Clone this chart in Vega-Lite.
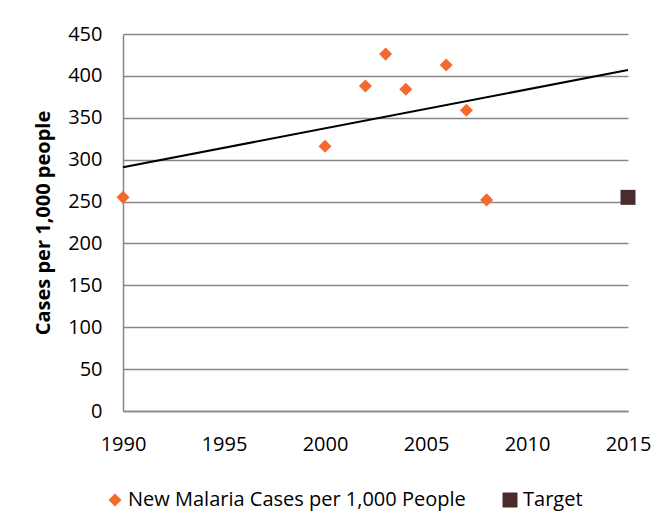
{
  "$schema": "https://vega.github.io/schema/vega-lite/v6.json",
  "width": 505,
  "height": 377,
  "autosize": "none",
  "padding": {"left": 123, "top": 34, "right": 37, "bottom": 106},
  "background": "white",
  "config": {
    "view": {"stroke": null},
    "font": "Open Sans",
    "axis": {"labelFont": "Open Sans", "titleFont": "Open Sans"},
    "legend": {"labelFont": "Open Sans"}
  },
  "datasets": {
    "points": [
      {"year": 1990, "cases": 255, "series": "New Malaria Cases per 1,000 People"},
      {"year": 2000, "cases": 316, "series": "New Malaria Cases per 1,000 People"},
      {"year": 2002, "cases": 388, "series": "New Malaria Cases per 1,000 People"},
      {"year": 2003, "cases": 426, "series": "New Malaria Cases per 1,000 People"},
      {"year": 2004, "cases": 384, "series": "New Malaria Cases per 1,000 People"},
      {"year": 2006, "cases": 413, "series": "New Malaria Cases per 1,000 People"},
      {"year": 2007, "cases": 359, "series": "New Malaria Cases per 1,000 People"},
      {"year": 2008, "cases": 252, "series": "New Malaria Cases per 1,000 People"},
      {"year": 2015, "cases": 255, "series": "Target"}
    ],
    "trend": [
      {"year": 1990, "cases": 291},
      {"year": 2015, "cases": 407}
    ]
  },
  "layer": [
    {
      "data": {"name": "trend"},
      "mark": {"type": "line", "color": "black", "strokeWidth": 2},
      "encoding": {
        "x": {"field": "year", "type": "quantitative"},
        "y": {"field": "cases", "type": "quantitative"}
      }
    },
    {
      "data": {"name": "points"},
      "mark": {"type": "point", "filled": true, "opacity": 1},
      "encoding": {
        "x": {
          "field": "year", "type": "quantitative",
          "scale": {"domain": [1990, 2015], "nice": false, "zero": false},
          "axis": {
            "values": [1990, 1995, 2000, 2005, 2010, 2015],
            "format": "d", "title": null, "grid": false, "ticks": false,
            "labelFlush": false, "labelOverlap": false,
            "domainColor": "#878787", "domainWidth": 1.5,
            "labelFontSize": 20, "labelColor": "black", "labelPadding": 23
          }
        },
        "y": {
          "field": "cases", "type": "quantitative",
          "scale": {"domain": [0, 450], "nice": false},
          "axis": {
            "values": [0, 50, 100, 150, 200, 250, 300, 350, 400, 450],
            "title": "Cases per 1,000 people",
            "titleFontSize": 20, "titleFontWeight": "bold", "titleColor": "black",
            "titlePadding": 14,
            "grid": true, "gridColor": "#878787", "gridWidth": 1.5,
            "ticks": false, "domainColor": "#878787", "domainWidth": 1.5,
            "labelFlush": false, "labelOverlap": false,
            "labelFontSize": 20, "labelColor": "black", "labelPadding": 21
          }
        },
        "color": {
          "field": "series", "type": "nominal",
          "scale": {"domain": ["New Malaria Cases per 1,000 People", "Target"], "range": ["#F46A2E", "#4A2C2D"]},
          "legend": {
            "title": null, "orient": "none", "direction": "horizontal",
            "legendX": -18, "legendY": 456,
            "labelFontSize": 20, "labelColor": "black", "labelLimit": 500,
            "labelOffset": 3,
            "columnPadding": 34, "symbolSize": 160, "symbolOpacity": 1
          }
        },
        "shape": {
          "field": "series", "type": "nominal",
          "scale": {"domain": ["New Malaria Cases per 1,000 People", "Target"], "range": ["diamond", "square"]},
          "legend": null
        },
        "size": {
          "field": "series", "type": "nominal",
          "scale": {"domain": ["New Malaria Cases per 1,000 People", "Target"], "range": [170, 225]},
          "legend": null
        }
      }
    }
  ]
}
